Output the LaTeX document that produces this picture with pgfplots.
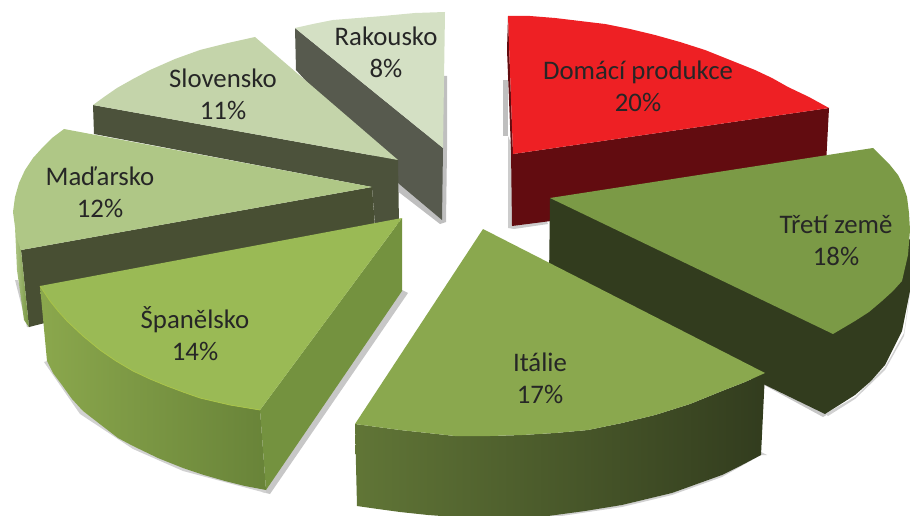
\documentclass[border=0pt]{standalone}
\usepackage{fontspec}
\setmainfont{Carlito}
\usepackage{pgfplots}
\pgfplotsset{compat=1.18}
\definecolor{redtop}{HTML}{EE2024}
\definecolor{redside}{HTML}{620C10}
\definecolor{thirdtop}{HTML}{7B9A46}
\definecolor{thirdside}{HTML}{323C1E}
\definecolor{ittop}{HTML}{8AA84E}
\definecolor{estop}{HTML}{9ABA55}
\definecolor{esside}{HTML}{74923F}
\definecolor{hutop}{HTML}{AFC786}
\definecolor{huside}{HTML}{484F33}
\definecolor{sktop}{HTML}{C4D4AA}
\definecolor{skside}{HTML}{4C523B}
\definecolor{attop}{HTML}{D4E0C4}
\definecolor{atside}{HTML}{575A4E}
\definecolor{txt}{HTML}{262626}
\tikzset{lbl/.style={font=\fontsize{26.8}{32}\selectfont, text=txt, align=center, inner sep=0pt}}
\begin{document}
\begin{tikzpicture}
\begin{axis}[
    scale only axis,
    width=910pt,
    height=516pt,
    xmin=0, xmax=910,
    ymin=0, ymax=516,
    y dir=reverse,
    hide axis,
]
% shadows
\addplot[fill=black!25,draw=none] coordinates {(443,76) (447,76) (447,150) (446,222) (440,224) (396,190)} --cycle;
\addplot[fill=black!25,draw=none] coordinates {(503,80) (508,80) (508,136) (503,136)} --cycle;
\addplot[fill=black!20,draw=none] coordinates {(508,136) (508,228) (514,229) (548,224) (514,150)} --cycle;
\addplot[fill=black!22,draw=none] coordinates {(402,290) (408,293) (270,494) (262,492)} --cycle;
\addplot[fill=black!18,draw=none] coordinates {(44,362) (80,414) (133,449) (183,471) (266,493) (266,490) (183,468) (133,446) (83,411) (47,361)} --cycle;
\addplot[fill=black!20,draw=none] coordinates {(27,327) (15,280) (18,280) (30,327)} --cycle;
\addplot[fill=black!22,draw=none] coordinates {(764,385) (823,417) (828,414) (765,380)} --cycle;
\addplot[fill=black!18,draw=none] coordinates {(761,455) (722,477) (672,495) (622,507) (548,518) (548,515) (622,505) (672,493) (722,475) (761,452) (767,455)} --cycle;
\addplot[fill=black!18,draw=none] coordinates {(825,414) (855,397) (885,367) (904,333) (910,291) (910,294) (904,336) (885,370) (855,399) (828,416)} --cycle;
% Rakousko
\addplot[fill=atside,draw=none] coordinates {(295,28) (443,148) (442,220) (398,183) (296,70)} --cycle;
\addplot[fill=attop,draw=none] coordinates {(295,28) (313,24) (333,20) (358,18) (383,16) (415,13) (445,12) (444,80) (443,148)} --cycle;
% Slovensko
\addplot[fill=skside,draw=none] coordinates {(93,105) (398,160) (399,225) (375,225) (372,187) (94,134)} --cycle;
\addplot[fill=sktop,draw=none] coordinates {(255,37) (228,43) (200,50) (175,59) (150,70) (133,79) (117,88) (104,97) (93,105) (398,160)} --cycle;
% Madarsko
\addplot[fill=huside,draw=none] coordinates {(21,250) (372,187) (376,240) (29,327)} --cycle;
\addplot[left color=hutop,right color=esside,draw=none] coordinates {(15,227) (21,250) (29,327) (24,320) (17,270)} --cycle;
\addplot[fill=hutop,draw=none] coordinates {(64,129) (52,138) (43,147) (33,158) (25,170) (19,183) (15,197) (13,212) (15,227) (17,239) (21,250) (372,187)} --cycle;
% Spanelsko
\addplot[fill=esside,draw=none] coordinates {(402,218) (260,410) (266,490) (402,291)} --cycle;
\addplot[left color=estop!90!black,right color=esside!90!black,draw=none] coordinates {(40,286) (50,301) (58,311) (67,321) (83,336) (100,350) (116,361) (133,371) (150,379) (167,386) (183,392) (200,398) (230,405) (260,410) (266,490) (245,486) (225,481) (204,475) (183,468) (158,458) (133,446) (118,438) (105,428) (83,411) (72,399) (62,385) (53,373) (47,361)} --cycle;
\addplot[fill=estop,draw=none] coordinates {(40,286) (402,218) (260,410) (230,405) (200,398) (183,392) (167,386) (150,379) (133,371) (116,361) (100,350) (83,336) (67,321) (58,311) (50,301)} --cycle;
\addplot[draw=estop!85!yellow,line width=0.8pt] coordinates {(40,286) (50,301) (58,311) (67,321) (83,336) (100,350) (116,361) (133,371) (150,379) (167,386) (183,392) (200,398) (230,405) (260,410)};
% Domaci produkce
\addplot[fill=redside,draw=none] coordinates {(507,50) (508,16) (513,154) (829,108) (826,165) (551,221) (512,226) (511,150)} --cycle;
\addplot[fill=redtop,draw=none] coordinates {(508,16) (530,16) (555,18) (580,21) (605,24) (630,29) (655,35) (680,42) (705,50) (730,60) (755,70) (772,78) (788,87) (809,97) (829,108) (513,154)} --cycle;
% Treti zeme
\addplot[fill=thirdside,draw=none] coordinates {(550,198) (873,200) (910,240) (910,291) (902,331) (885,365) (871,381) (855,395) (825,414) (549,280)} --cycle;
\addplot[fill=thirdtop,draw=none] coordinates {(550,198) (873,148) (890,165) (898,175) (903,185) (907,197) (909,213) (910,230) (908,255) (902,281) (893,291) (882,301) (869,312) (855,321) (833,334)} --cycle;
% Italie
\addplot[left color=ittop!70!black,right color=thirdside,draw=none] coordinates {(355,424) (400,430) (428,433) (455,436) (490,436) (522,435) (555,433) (588,430) (622,423) (655,415) (690,404) (722,391) (745,382) (765,373) (761,455) (742,465) (722,475) (697,484) (672,493) (647,499) (622,505) (585,511) (548,516) (500,518) (455,517) (428,515) (400,512) (378,509) (357,506)} --cycle;
\addplot[fill=ittop,draw=none] coordinates {(483,229) (765,373) (745,382) (722,391) (690,404) (655,415) (622,423) (588,430) (555,433) (522,435) (490,436) (455,436) (428,433) (400,430) (355,424)} --cycle;
% labels
\node[lbl] at (axis cs:638,86) {Domácí produkce\\20\%};
\node[lbl] at (axis cs:836,240) {Třetí země\\18\%};
\node[lbl] at (axis cs:540,378) {Itálie\\17\%};
\node[lbl] at (axis cs:195,334) {Španělsko\\14\%};
\node[lbl] at (axis cs:100,192) {Maďarsko\\12\%};
\node[lbl] at (axis cs:223,94) {Slovensko\\11\%};
\node[lbl] at (axis cs:386,52) {Rakousko\\8\%};
\end{axis}
\pgfresetboundingbox
\useasboundingbox (current axis.south west) rectangle (current axis.north east);
\end{tikzpicture}
\end{document}
